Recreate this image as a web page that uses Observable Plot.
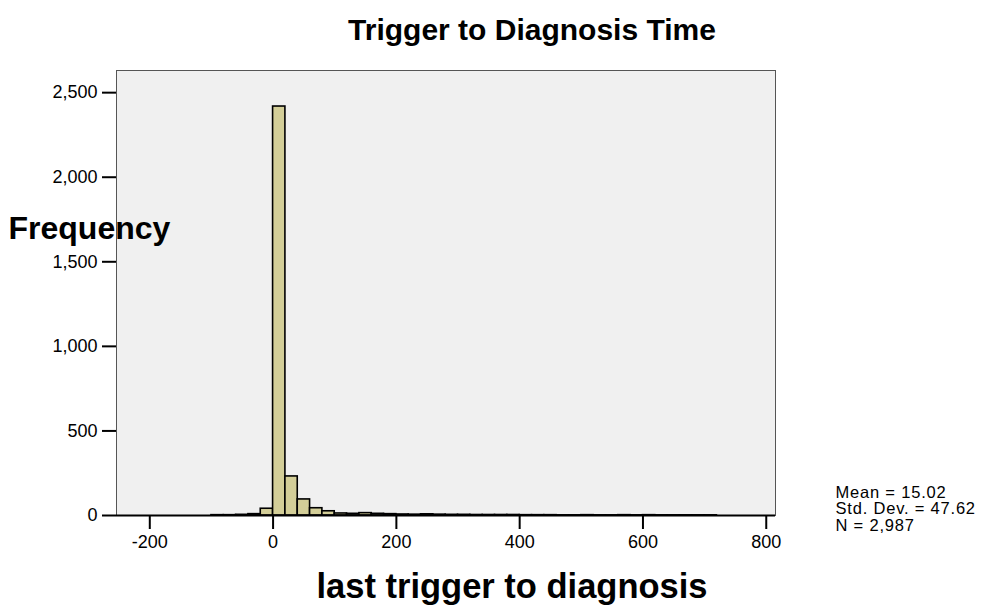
<!DOCTYPE html>
<html>
<head>
<meta charset="utf-8">
<script src="https://cdn.jsdelivr.net/npm/d3@7"></script>
<script src="https://cdn.jsdelivr.net/npm/@observablehq/plot@0.6"></script>
<style>
  html, body { margin: 0; padding: 0; background: #fff; }
  body { width: 985px; height: 608px; overflow: hidden; }
  svg { font-family: "Liberation Sans", Arial, sans-serif; }
</style>
</head>
<body>
<div id="chart"></div>
<script>
const chartTitle = "Trigger to Diagnosis Time";
const xLabel = "last trigger to diagnosis";
const yLabel = "Frequency";
const statsLines = ["Mean = 15.02", "Std. Dev. = 47.62", "N = 2,987"];

const binWidth = 20;
const binStarts = [-100, -80, -60, -40, -20, 0, 20, 40, 60, 80,
  100, 120, 140, 160, 180, 200, 220, 240, 260, 280,
  300, 320, 340, 360, 380, 400, 420, 440, 460, 480,
  500, 520, 540, 560, 580, 600, 620, 640, 660, 680, 700];
const counts = [2, 2, 4, 8, 40, 2418, 231, 95, 43, 25,
  12, 10, 14, 10, 8, 6, 5, 7, 5, 4,
  4, 3, 3, 3, 3, 2, 2, 2, 1, 1,
  2, 1, 1, 2, 1, 2, 1, 1, 1, 1, 1];

const xTicks = [-200, 0, 200, 400, 600, 800];
const yTicks = [0, 500, 1000, 1500, 2000, 2500];

const bins = binStarts.map((s, i) => ({x1: s, x2: s + binWidth, count: counts[i]}));

const chart = Plot.plot({
  width: 985,
  height: 608,
  marginLeft: 116,
  marginRight: 210,
  marginTop: 70,
  marginBottom: 93,
  style: {fontFamily: "'Liberation Sans', Arial, sans-serif", background: "#ffffff"},
  x: {domain: [-254, 815]},
  y: {domain: [0, 2631]},
  marks: [
    Plot.frame({fill: "#f0f0f0", stroke: "#555", strokeWidth: 1}),
    Plot.rectY(bins, {x1: "x1", x2: "x2", y: "count", fill: "#d3ce98", stroke: "#000", strokeWidth: 1.6}),
    Plot.ruleY([0], {stroke: "#000", strokeWidth: 2}),
    Plot.axisY({ticks: yTicks, tickFormat: d3.format(","), tickSize: 14, tickPadding: 5,
      fontSize: 18, label: null, stroke: "#000", strokeWidth: 2, color: "#000"}),
    Plot.axisX({ticks: xTicks, tickFormat: d => String(d).replace("\u2212", "-"), tickSize: 14, tickPadding: 6,
      fontSize: 18, label: null, stroke: "#000", strokeWidth: 2}),
    Plot.text([chartTitle], {frameAnchor: "top", dx: 86, dy: -52, fontSize: 30, fontWeight: "bold", fill: "#000"}),
    Plot.text([yLabel], {frameAnchor: "left", textAnchor: "start", dx: -108, dy: -64, fontSize: 32, fontWeight: "bold", fill: "#000"}),
    Plot.text([xLabel], {frameAnchor: "bottom", dx: 66, dy: 82, fontSize: 34.5, fontWeight: "bold", fill: "#000"}),
    Plot.text([statsLines.join("\n")], {frameAnchor: "bottom-right", textAnchor: "start", dx: 60, dy: 15,
      lineHeight: 1.0, fontSize: 16.5, fill: "#000"})
  ]
});
d3.select(chart).selectAll("text").filter(function() { return this.textContent.includes("Mean"); })
  .attr("letter-spacing", "0.8px");
document.getElementById("chart").appendChild(chart);
</script>
</body>
</html>
